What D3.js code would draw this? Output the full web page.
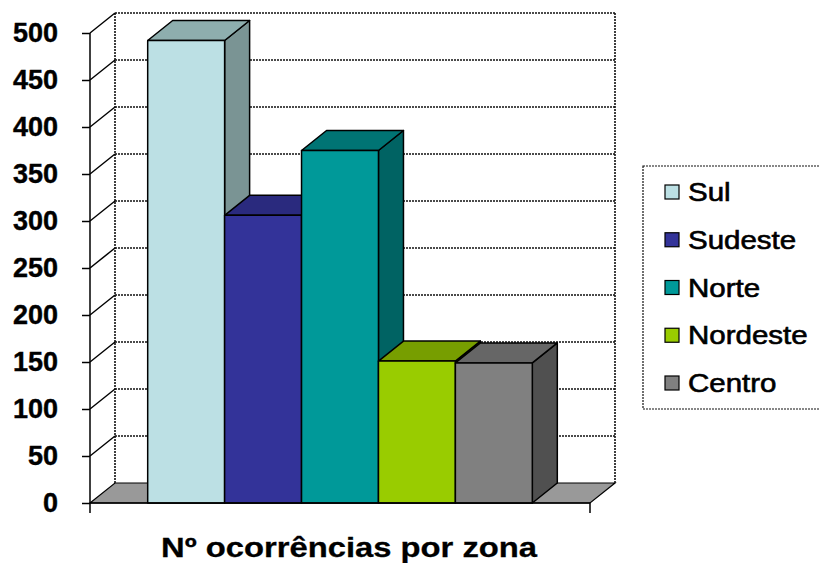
<!DOCTYPE html>
<html><head><meta charset="utf-8">
<script src="https://cdn.jsdelivr.net/npm/d3@7/dist/d3.min.js"></script>
<style>body{margin:0;background:#fff}svg{display:block}text{font-family:"Liberation Sans",Arial,sans-serif}</style>
</head><body>
<svg id="c" width="820" height="563"></svg>
<script>
const categories = ["Sul", "Sudeste", "Norte", "Nordeste", "Centro"];
const values = [492, 306, 375, 151, 149];
const frontColors = ["#BCE0E4", "#333399", "#009999", "#99CC00", "#808080"];
const topColors = ["#8EAEAE", "#2A2A7E", "#007474", "#779E00", "#666666"];
const sideColors = ["#7A9494", "#222266", "#006363", "#5E7E00", "#505050"];
const yTicks = [0, 50, 100, 150, 200, 250, 300, 350, 400, 450, 500];
const title = "Nº ocorrências por zona";

const svg = d3.select("#c");
const x = d3.scaleBand().domain(categories).range([90, 590]).paddingInner(0).paddingOuter(0.75);
const y = d3.scaleLinear().domain([0, 500]).range([503, 33]);
const dx = 25, dy = -20;
const x0 = 90, x1 = 590;
const dot = {stroke: "#111", width: 1.6, dash: "2 1"};

// floor
svg.append("path")
  .attr("d", `M${x0},${y(0)}L${x0+dx},${y(0)+dy}L${x1+dx},${y(0)+dy}L${x1},${y(0)}Z`)
  .attr("fill", "#999").attr("stroke", "#000").attr("stroke-width", 1.2);

// back wall gridlines
const g = svg.append("g");
g.selectAll("line.grid").data(yTicks.filter(d => d > 0)).join("line")
  .attr("x1", x0 + dx).attr("x2", x1 + dx)
  .attr("y1", d => y(d) + dy).attr("y2", d => y(d) + dy)
  .attr("stroke", dot.stroke).attr("stroke-width", dot.width).attr("stroke-dasharray", dot.dash);
g.append("line").attr("x1", x0+dx).attr("x2", x0+dx).attr("y1", y(500)+dy).attr("y2", y(0)+dy)
  .attr("stroke", dot.stroke).attr("stroke-width", dot.width).attr("stroke-dasharray", dot.dash);
g.append("line").attr("x1", x1+dx).attr("x2", x1+dx).attr("y1", y(500)+dy).attr("y2", y(0)+dy)
  .attr("stroke", dot.stroke).attr("stroke-width", dot.width).attr("stroke-dasharray", dot.dash);
g.selectAll("line.diag").data(yTicks.filter(d => d > 0)).join("line")
  .attr("x1", x0).attr("x2", x0 + dx)
  .attr("y1", d => y(d)).attr("y2", d => y(d) + dy)
  .attr("stroke", "#000").attr("stroke-width", 1.5);

// bars
categories.forEach((c, i) => {
  const l = x(c), r = x(c) + x.bandwidth(), t = y(values[i]), b = y(0);
  const bg = svg.append("g").attr("stroke", "#000").attr("stroke-width", 1.5).attr("stroke-linejoin", "round");
  bg.append("path").attr("d", `M${r},${b}L${r+dx},${b+dy}L${r+dx},${t+dy}L${r},${t}Z`).attr("fill", sideColors[i]);
  bg.append("path").attr("d", `M${l},${t}L${l+dx},${t+dy}L${r+dx},${t+dy}L${r},${t}Z`).attr("fill", topColors[i]);
  bg.append("rect").attr("x", l).attr("y", t).attr("width", r - l).attr("height", b - t).attr("fill", frontColors[i]);
});

// front axis
const axis = d3.axisLeft(y).tickValues(yTicks).tickSize(8).tickPadding(24).tickFormat(d3.format("d"));
const ag = svg.append("g").attr("transform", `translate(${x0},0)`).call(axis);
ag.select(".domain").attr("stroke", "#000").attr("stroke-width", 1.5).attr("d", `M0,${y(500)}V${y(0)+10}`);
ag.selectAll(".tick line").attr("stroke", "#000").attr("stroke-width", 1.5);
ag.selectAll(".tick text").attr("font-size", 27).attr("font-weight", "bold").attr("fill", "#000")
  .attr("font-family", "'Liberation Sans', Arial, sans-serif").attr("x", -32)
  .attr("stroke", "#000").attr("stroke-width", 0.4);
svg.append("line").attr("x1", x0).attr("x2", x1).attr("y1", y(0)).attr("y2", y(0)).attr("stroke", "#000").attr("stroke-width", 1.5);
svg.append("line").attr("x1", x1).attr("x2", x1).attr("y1", y(0)).attr("y2", y(0)+10).attr("stroke", "#000").attr("stroke-width", 1.5);

// title
svg.append("text").attr("transform", "translate(349,557) scale(1.17,1)").attr("text-anchor", "middle")
  .attr("font-size", 28).attr("font-weight", "bold").attr("stroke", "#000").attr("stroke-width", 0.3).text(title);

// legend
const lg = svg.append("g");
lg.append("rect").attr("x", 643).attr("y", 166).attr("width", 190).attr("height", 243)
  .attr("fill", "#fff").attr("stroke", dot.stroke).attr("stroke-width", 1.2).attr("stroke-dasharray", dot.dash);
const ly = d3.scalePoint().domain(categories).range([192, 383]);
categories.forEach((c, i) => {
  lg.append("rect").attr("x", 665).attr("y", ly(c) - 7).attr("width", 14).attr("height", 14)
    .attr("fill", frontColors[i]).attr("stroke", "#000").attr("stroke-width", 1.2);
  lg.append("text").attr("transform", `translate(688,${ly(c)}) scale(1.18,1)`).attr("dy", "0.36em")
    .attr("font-size", 25).attr("fill", "#000").attr("stroke", "#000").attr("stroke-width", 0.6).text(c);
});
</script>
</body></html>
